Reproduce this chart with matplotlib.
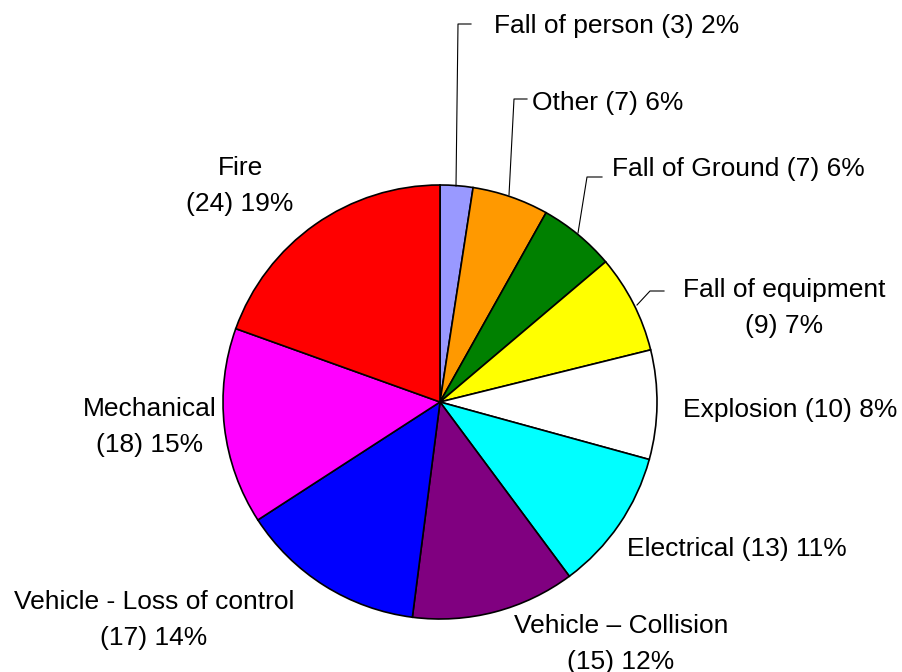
import matplotlib
matplotlib.use("Agg")
import matplotlib.pyplot as plt

categories = ["Fall of person", "Other", "Fall of Ground", "Fall of equipment",
              "Explosion", "Electrical", "Vehicle \u2013 Collision",
              "Vehicle - Loss of control", "Mechanical", "Fire"]
counts = [3, 7, 7, 9, 10, 13, 15, 17, 18, 24]
pct_labels = ["2%", "6%", "6%", "7%", "8%", "11%", "12%", "14%", "15%", "19%"]
colors = ["#9999FF", "#FF9900", "#008000", "#FFFF00", "#FFFFFF",
          "#00FFFF", "#800080", "#0000FF", "#FF00FF", "#FF0000"]

plt.rcParams['font.family'] = ['Liberation Sans', 'DejaVu Sans']

fig = plt.figure(figsize=(9.02, 6.72), dpi=100)
ax = fig.add_axes([0, 0, 1, 1])

cx, cy, r = 440, 402, 217
# y axis is inverted (pixel-like coords), so startangle=-90 points up
# and counterclock in data space appears clockwise on screen
ax.pie(counts, colors=colors, startangle=-90, counterclock=True,
       center=(cx, cy), radius=r,
       wedgeprops=dict(edgecolor='black', linewidth=1.2), frame=True)
ax.set_xlim(0, 902)
ax.set_ylim(672, 0)
ax.axis('off')
ax.set_aspect('equal')

# label layout: (text position, ha, multiline?, leader line points)
layout = [
    ((494, 26), 'left', False, [(456, 186), (458, 24), (471, 24)]),
    ((532, 103), 'left', False, [(509, 195), (514, 99), (527, 99)]),
    ((612, 169), 'left', False, [(578, 233), (587, 177), (602, 177)]),
    ((784, 308), 'center', True, [(637, 305), (650, 291), (664, 291)]),
    ((683, 410), 'left', False, None),
    ((627, 549), 'left', False, None),
    ((621, 644), 'center', True, None),
    ((154, 620), 'center', True, None),
    ((150, 427), 'center', True, None),
    ((240, 186), 'center', True, None),
]

for cat, n, p, (pos, ha, multi, leader) in zip(categories, counts, pct_labels, layout):
    sep = "\n" if multi else " "
    txt = f"{cat}{sep}({n}) {p}"
    ax.text(pos[0], pos[1], txt, ha=ha, va='center', fontsize=19,
            linespacing=1.6, multialignment='center')
    if leader:
        xs = [q[0] for q in leader]
        ys = [q[1] for q in leader]
        ax.plot(xs, ys, color='black', lw=0.8)

fig.savefig("out.png", dpi=100)
